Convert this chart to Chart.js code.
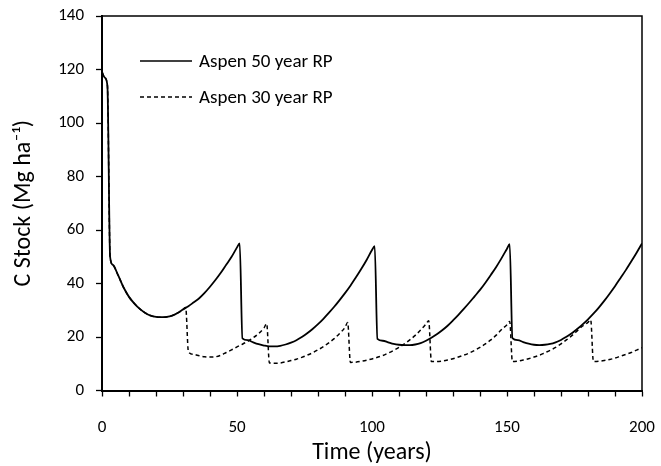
<!DOCTYPE html>
<html>
<head>
<meta charset="utf-8">
<script src="https://cdn.jsdelivr.net/npm/chart.js@4.4.0/dist/chart.umd.min.js"></script>
<style>
  html, body { margin: 0; padding: 0; background: #fff; }
  #wrap { width: 661px; height: 466px; }
</style>
</head>
<body>
<div id="wrap"><canvas id="chartStock" width="661" height="466"></canvas></div>
<script>
// Aspen 50 year rotation period
const years50 = [0, 1, 2, 3, 4, 6, 8, 10, 12, 14, 16, 18, 20, 22, 24, 26, 28, 30, 32, 34, 36, 38, 40, 42, 44, 46, 48, 50, 51,
  52, 54, 56, 58, 60, 62, 64, 66, 68, 70, 72, 74, 76, 78, 80, 82, 84, 86, 88, 90, 92, 94, 96, 98, 100, 101,
  102, 104, 106, 108, 110, 112, 114, 116, 118, 120, 122, 124, 126, 128, 130, 132, 134, 136, 138, 140, 142, 144, 146, 148, 150, 151,
  152, 154, 156, 158, 160, 162, 164, 166, 168, 170, 172, 174, 176, 178, 180, 182, 184, 186, 188, 190, 192, 194, 196, 198, 200];
const stock50 = [119, 117, 114, 50, 47, 43, 38.5, 35, 32.5, 30.5, 29, 28, 27.5, 27.4, 27.5, 28, 29, 30.3, 31.5, 33, 34.5, 36.5, 38.8, 41.3, 44, 47, 50, 53.5, 55,
  19.5, 18.8, 18, 17.3, 16.8, 16.5, 16.5, 16.7, 17.2, 17.9, 18.8, 20, 21.4, 23, 24.8, 26.8, 29, 31.3, 33.8, 36.4, 39.2, 42.2, 45.4, 48.8, 52.5, 54,
  19.3, 18.6, 18, 17.4, 17.1, 17, 17, 17.2, 17.7, 18.6, 19.7, 21, 22.5, 24.2, 26.2, 28.3, 30.5, 32.8, 35.2, 37.6, 40.3, 43.2, 46.2, 49.5, 53, 54.7,
  19.6, 18.8, 18.1, 17.5, 17.1, 17, 17.1, 17.4, 18, 18.9, 20.1, 21.4, 23, 24.7, 26.6, 28.7, 31, 33.5, 36.2, 39, 42, 45, 48.2, 51.5, 55];

// Aspen 30 year rotation period
const years30 = [0, 1, 2, 3, 4, 6, 8, 10, 12, 14, 16, 18, 20, 22, 24, 26, 28, 30, 31,
  32, 34, 36, 38, 40, 42, 44, 46, 48, 50, 52, 54, 56, 58, 60, 61,
  62, 64, 66, 68, 70, 72, 74, 76, 78, 80, 82, 84, 86, 88, 90, 91,
  92, 94, 96, 98, 100, 102, 104, 106, 108, 110, 112, 114, 116, 118, 120, 121,
  122, 124, 126, 128, 130, 132, 134, 136, 138, 140, 142, 144, 146, 148, 150, 151,
  152, 154, 156, 158, 160, 162, 164, 166, 168, 170, 172, 174, 176, 178, 180, 181,
  182, 184, 186, 188, 190, 192, 194, 196, 198, 200];
const stock30 = [119, 117, 114, 50, 47, 43, 38.5, 35, 32.5, 30.5, 29, 28, 27.5, 27.4, 27.5, 28, 29, 30.3, 31,
  14.5, 13.5, 13, 12.6, 12.5, 12.6, 13.2, 14.2, 15.2, 16.3, 17.3, 18.4, 19.7, 21.3, 23.4, 25,
  10.3, 10.2, 10.3, 10.7, 11.2, 11.7, 12.4, 13.2, 14.1, 15.2, 16.4, 17.8, 19.4, 21.3, 23.6, 25.4,
  10.5, 10.6, 10.9, 11.3, 11.8, 12.4, 13.1, 14, 15, 16.1, 17.4, 18.9, 20.6, 22.6, 24.9, 26.1,
  10.8, 10.8, 11, 11.4, 11.9, 12.5, 13.2, 14, 15, 16.1, 17.4, 18.9, 20.7, 22.8, 24.6, 25.8,
  10.8, 11, 11.4, 11.9, 12.5, 13.2, 14.1, 15, 16.1, 17.4, 18.9, 20.5, 22.3, 24.1, 25.5, 26.4,
  10.8, 10.9, 11.2, 11.6, 12.1, 12.8, 13.5, 14.2, 15.1, 16];

const seriesLabels = ['Aspen 50 year RP', 'Aspen 30 year RP'];
const yTitle = 'C Stock (Mg ha\u207B\u00B9)';
const xTitle = 'Time (years)';

const FONT = 'Carlito, Lato, "Open Sans", sans-serif';

const toPoints = (xs, ys) => xs.map((x, i) => ({ x: x, y: ys[i] }));

// draws the box around the plot and the legend inside it
const boxAndLegend = {
    id: 'boxAndLegend',
    afterDatasetsDraw(chart) {
        const { ctx, chartArea } = chart;
        ctx.save();
        ctx.strokeStyle = '#000';
        ctx.lineWidth = 1.5;
        ctx.beginPath();
        ctx.moveTo(chartArea.left, chartArea.top);
        ctx.lineTo(chartArea.right, chartArea.top);
        ctx.lineTo(chartArea.right, chartArea.bottom);
        ctx.stroke();

        const x0 = chartArea.left + 38;
        const rows = [chartArea.top + 45, chartArea.top + 81];
        ctx.font = '19px ' + FONT;
        ctx.fillStyle = '#000';
        ctx.textBaseline = 'middle';
        chart.data.datasets.forEach((ds, i) => {
            ctx.lineWidth = 1.5;
            ctx.setLineDash(ds.borderDash || []);
            ctx.beginPath();
            ctx.moveTo(x0, rows[i]);
            ctx.lineTo(x0 + 52, rows[i]);
            ctx.stroke();
            ctx.setLineDash([]);
            ctx.fillText(ds.label, x0 + 59, rows[i] + 1);
        });
        ctx.restore();
    }
};

const ctx = document.getElementById('chartStock').getContext('2d');

const chartStock = new Chart(ctx, {
    type: 'line',
    data: {
        datasets: [{
            label: seriesLabels[0],
            data: toPoints(years50, stock50),
            borderColor: '#000',
            borderWidth: 1.8,
            pointRadius: 0,
            cubicInterpolationMode: 'monotone'
        }, {
            label: seriesLabels[1],
            data: toPoints(years30, stock30),
            borderColor: '#000',
            borderWidth: 1.5,
            borderDash: [4, 3],
            pointRadius: 0,
            cubicInterpolationMode: 'monotone'
        }]
    },
    options: {
        responsive: false,
        animation: false,
        layout: { padding: { top: 16, right: 19, left: 0, bottom: 0 } },
        plugins: {
            legend: { display: false },
            tooltip: { enabled: false }
        },
        scales: {
            x: {
                type: 'linear',
                min: 0,
                max: 200,
                ticks: {
                    stepSize: 10,
                    color: '#000',
                    font: { family: FONT, size: 17 },
                    padding: 21,
                    maxRotation: 0,
                    autoSkip: false,
                    callback: v => (v % 50 === 0 ? v : '')
                },
                grid: { drawOnChartArea: false, tickLength: 6, color: '#000', tickWidth: 1.3 },
                border: { color: '#000', width: 2 },
                title: { display: true, text: xTitle, color: '#000', font: { family: FONT, size: 24, lineHeight: 1 }, padding: { top: 0, bottom: 1 } },
                afterFit: s => {
                    s.height = 75.5;
                    s.paddingLeft = 0;
                    s.paddingRight = 0;
                }
            },
            y: {
                min: 0,
                max: 140,
                ticks: {
                    stepSize: 20,
                    color: '#000',
                    font: { family: FONT, size: 17 },
                    padding: 12
                },
                grid: { drawOnChartArea: false, tickLength: 6, color: '#000', tickWidth: 1.3 },
                border: { color: '#000', width: 2 },
                title: { display: true, text: yTitle, color: '#000', font: { family: FONT, size: 24, lineHeight: 1 }, padding: { top: 12, bottom: 0 } },
                afterFit: s => {
                    s.width = 102;
                    s.paddingTop = 0;
                    s.paddingBottom = 0;
                }
            }
        }
    },
    plugins: [boxAndLegend]
});
</script>
</body>
</html>
